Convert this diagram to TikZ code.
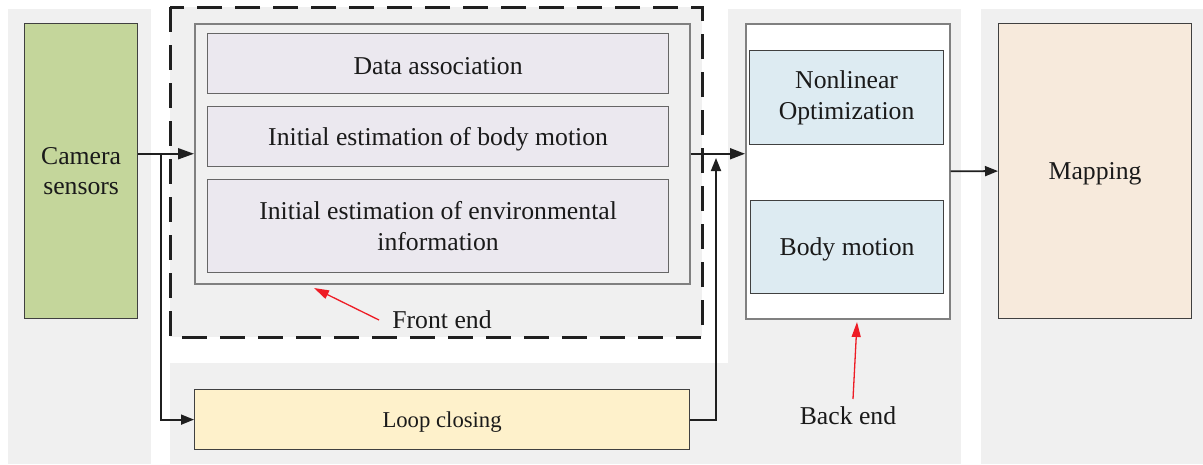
\documentclass[tikz,border=0pt]{standalone}
\usepackage{fontspec}
\setmainfont{Liberation Serif}
\usetikzlibrary{arrows.meta}
\definecolor{panel}{HTML}{F0F0F0}
\definecolor{camfill}{HTML}{C4D69B}
\definecolor{lav}{HTML}{EBE8EF}
\definecolor{bluefill}{HTML}{DDEBF2}
\definecolor{mapfill}{HTML}{F7EADC}
\definecolor{loopfill}{HTML}{FEF1CB}
\definecolor{boxline}{HTML}{404040}
\definecolor{grayline}{HTML}{808080}
\definecolor{txt}{HTML}{1A1A1A}
\definecolor{redline}{HTML}{EE1C25}
\newcommand{\dn}[1]{\raisebox{-2.5pt}[\height][\depth]{#1}}
\begin{document}
\begin{tikzpicture}[x=1pt,y=-1pt,
  font=\fontsize{25.7}{30.8}\selectfont,
  box/.style={draw=boxline, line width=1.2pt, anchor=north west, inner sep=0pt, align=center, text=txt},
  container/.style={draw=grayline, line width=1.5pt, anchor=north west, inner sep=0pt},
  conn/.style={draw=black!88, line width=1.8pt, -{Triangle[length=13pt,width=10pt]}},
  redarr/.style={draw=redline, line width=1.3pt, -{Triangle[length=15pt,width=9pt]}},
  lab/.style={inner sep=0pt, text=txt}]
\useasboundingbox (0,0) rectangle (1203,464);
% background panels
\fill[panel] (8,9) rectangle (151,464);
\fill[panel] (170,7) rectangle (702,337);
\fill[panel] (170,363) rectangle (961,464);
\fill[panel] (728,9) rectangle (961,464);
\fill[panel] (981,9) rectangle (1203,464);
% camera
\node[box, fill=camfill, minimum width=113pt, minimum height=295pt] (cam) at (24,23) {Camera\\sensors};
% front end
\node[container, fill=panel, minimum width=495pt, minimum height=260pt] (fe) at (194,23) {};
\node[box, draw=boxline!80, fill=lav, minimum width=461pt, minimum height=60pt] (da) at (207,33) {\dn{Data association}};
\node[box, draw=boxline!80, fill=lav, minimum width=461pt, minimum height=60pt] (ebm) at (207,106) {\dn{Initial estimation of body motion}};
\node[box, draw=boxline!80, fill=lav, minimum width=461pt, minimum height=93pt] (eei) at (207,179) {Initial estimation of environmental\\information};
\draw[black!88, line width=3pt, dash pattern=on 25pt off 13pt] (170,7) rectangle (702,337);
% back end
\node[container, fill=white, minimum width=204pt, minimum height=295pt] (be) at (745,23) {};
\node[box, fill=bluefill, minimum width=194pt, minimum height=94pt] (nlo) at (749,50) {Nonlinear\\Optimization};
\node[box, fill=bluefill, minimum width=193pt, minimum height=93pt] (bm) at (750,200) {\dn{Body motion}};
% mapping
\node[box, fill=mapfill, minimum width=193pt, minimum height=295pt] (map) at (998,23) {\dn{Mapping}};
% loop closing
\node[box, fill=loopfill, minimum width=495pt, minimum height=60pt, font=\fontsize{22.7}{27}\selectfont] (loop) at (194,389) {\dn{Loop closing}};
% labels
\node[lab] (felab) at (442,320) {Front end};
\node[lab] (belab) at (848,416) {Back end};
% connectors
\coordinate (br) at (161,153);
\coordinate (up) at (716,158);
\draw[conn, -{Triangle[length=16pt,width=11pt]}] (cam.east |- fe.west) -- (fe.west);
\draw[conn] (br) |- (loop.west);
\draw[conn, -{Triangle[length=15pt,width=11pt]}] (fe.east) -- (be.west |- fe.east);
\draw[conn] (loop.east) -| (up);
\draw[conn] (be.east) -- (map.west);
% red pointers
\coordinate (fetail) at (379,320);
\coordinate (fetip) at (314,288);
\coordinate (betail) at (853,399);
\coordinate (betip) at (857,322);
\draw[redarr] (fetail) -- (fetip);
\draw[redarr] (betail) -- (betip);
\end{tikzpicture}
\end{document}
